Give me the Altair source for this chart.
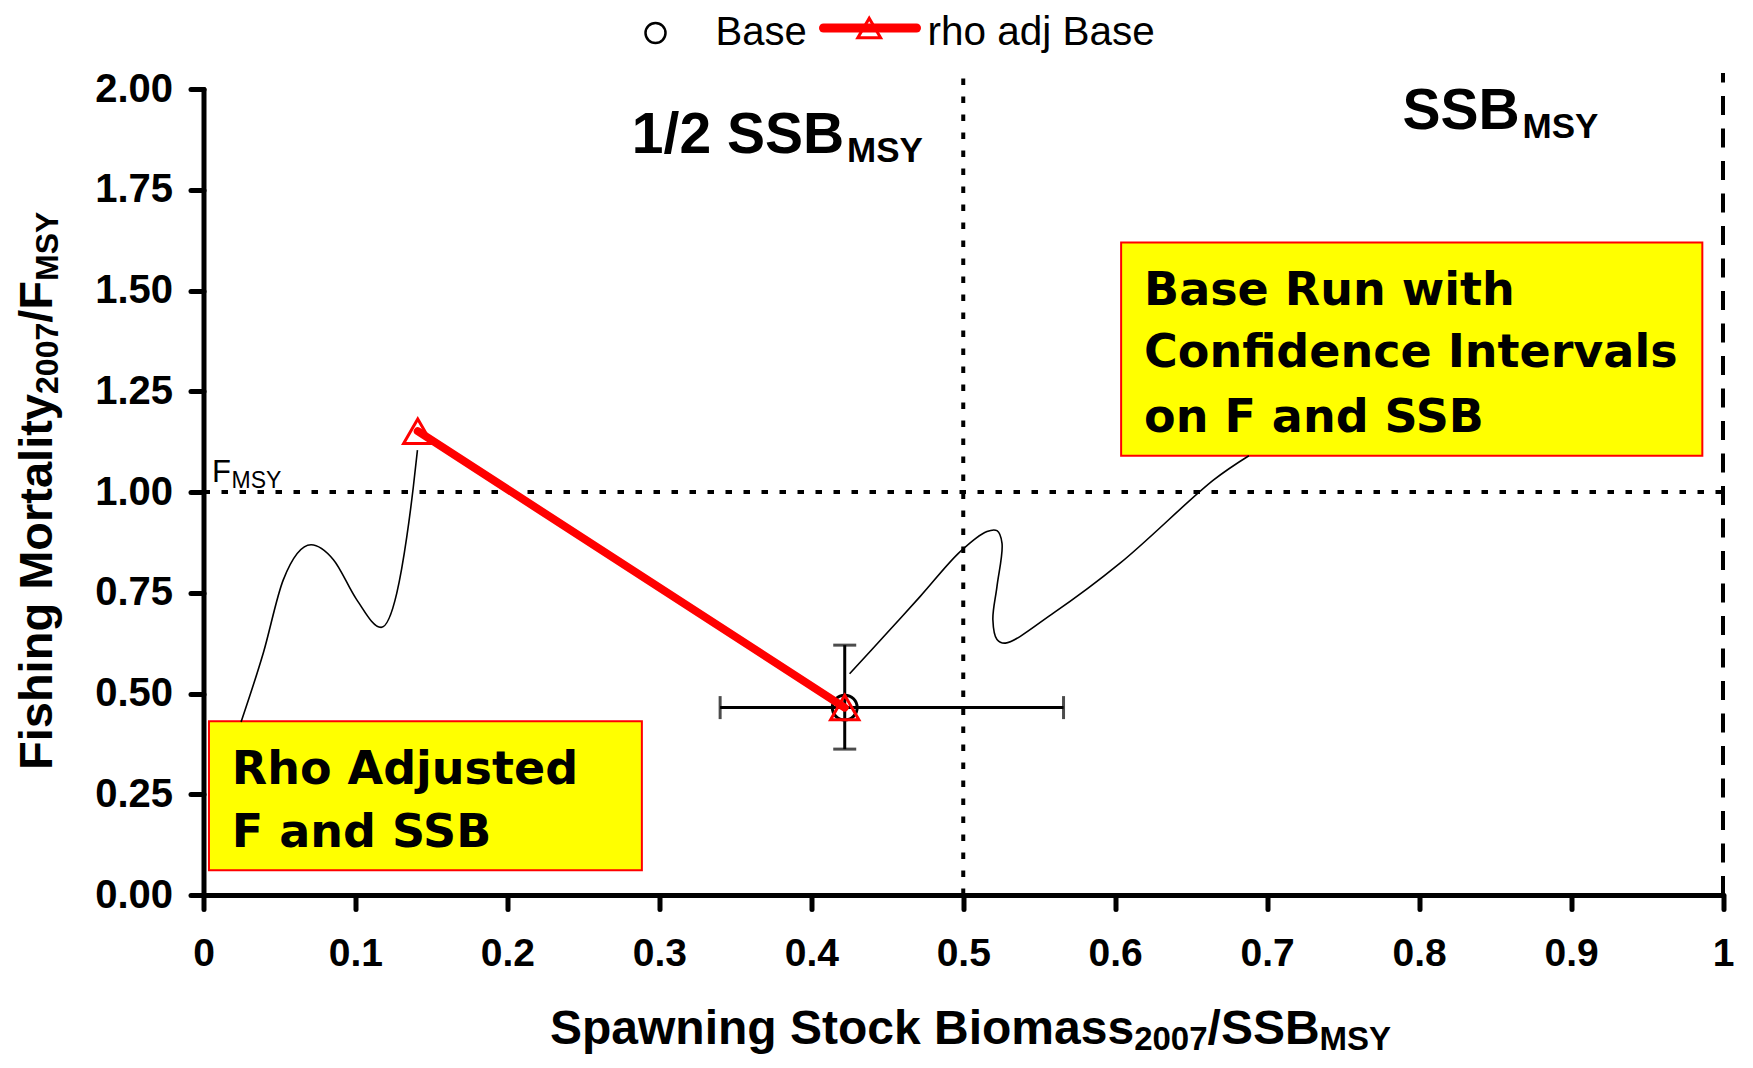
import altair as alt
import pandas as pd

# ---------------- data ----------------
base_ssb = [0.422]
base_f = [0.465]
base_ssb_ci = [0.340, 0.566]
base_f_ci = [0.362, 0.620]

rho_ssb = [0.141, 0.422]
rho_f = [1.151, 0.465]

x_ticks = [0, 0.1, 0.2, 0.3, 0.4, 0.5, 0.6, 0.7, 0.8, 0.9, 1]
y_ticks = [0, 0.25, 0.5, 0.75, 1.0, 1.25, 1.5, 1.75, 2.0]

f_msy = 1.0
half_ssb_msy = 0.5
ssb_msy = 1.0
ref_top = 2.04

# callout connector curves (data coordinates)
callout1_x = [0.0247, 0.0394, 0.0525, 0.0708, 0.0855, 0.1008, 0.1169, 0.1272, 0.1338, 0.1381, 0.1408]
callout1_y = [0.429, 0.601, 0.782, 0.869, 0.832, 0.733, 0.664, 0.749, 0.889, 1.013, 1.104]
callout2_x = [0.4252, 0.4498, 0.4717, 0.498, 0.5156, 0.5222, 0.5255, 0.5222, 0.5195, 0.5222, 0.5277, 0.5595, 0.6034, 0.6648, 0.688]
callout2_y = [0.549, 0.650, 0.741, 0.852, 0.902, 0.904, 0.873, 0.766, 0.683, 0.634, 0.625, 0.700, 0.824, 1.030, 1.090]

# callout boxes
box_x0 = [0.0036, 0.6039]
box_x1 = [0.2885, 0.9864]
box_y0 = [0.0614, 1.090]
box_y1 = [0.431, 1.619]
box_text = ["Rho Adjusted", "F and SSB", "Base Run with", "Confidence Intervals", "on F and SSB"]
box_text_x = [0.0186, 0.0186, 0.619, 0.619, 0.619]
box_text_y = [0.276, 0.119, 1.464, 1.311, 1.150]

# ---------------- helpers ----------------
AB = {' ': 278, '/': 278, '.': 278, 'B': 722, 'F': 611, 'M': 833, 'S': 667, 'Y': 667,
      'a': 556, 'b': 611, 'c': 556, 'g': 611, 'h': 611, 'i': 278, 'k': 556, 'l': 278,
      'm': 889, 'n': 611, 'o': 611, 'p': 611, 'r': 389, 's': 556, 't': 333, 'w': 778, 'y': 556}


def tw(s, size):
    return sum(AB.get(c, 556) for c in s) * size / 1000.0


ARIAL = "Liberation Sans, Arial"
COMIC = "Comic Sans MS, DejaVu Sans"
one = pd.DataFrame({"k": [0]})

W, H = 1519.5, 806
PAD = {"left": 195.5, "top": 81, "right": 20, "bottom": 163}

xs = alt.Scale(domain=[0, 1], nice=False, zero=False)
ys = alt.Scale(domain=[0, 2], nice=False, zero=False)
XAX = alt.Axis(values=x_ticks, format="~g", tickSize=14, labelPadding=25, title=None,
               labelFlush=False, labelOverlap=False, labelFontSize=39)
YAX = alt.Axis(values=y_ticks, format=".2f", tickSize=13, labelPadding=18, title=None,
               labelOverlap=False, labelFontSize=40)


def X(f):
    return alt.X(f, type="quantitative", scale=xs, axis=XAX)


def Y(f):
    return alt.Y(f, type="quantitative", scale=ys, axis=YAX)


layers = []

# callout boxes
boxes = pd.DataFrame({"x0": box_x0, "x1": box_x1, "y0": box_y0, "y1": box_y1})
layers.append(alt.Chart(boxes).mark_rect(fill="#FFFF00", stroke="#FF0000", strokeWidth=2).encode(
    x=X("x0"), x2="x1", y=Y("y0"), y2="y1"))
bt = pd.DataFrame({"t": box_text, "x": box_text_x, "y": box_text_y})
layers.append(alt.Chart(bt).mark_text(font=COMIC, fontWeight="bold", fontSize=46, align="left",
                                      baseline="alphabetic", color="black").encode(
    x=X("x"), y=Y("y"), text="t:N"))

# connector curves
c1 = pd.DataFrame({"x": callout1_x, "y": callout1_y, "i": list(range(len(callout1_x)))})
c2 = pd.DataFrame({"x": callout2_x, "y": callout2_y, "i": list(range(len(callout2_x)))})
layers.append(alt.Chart(c1).mark_line(color="black", strokeWidth=1.6, interpolate="monotone").encode(
    x=X("x"), y=Y("y"), order="i:Q"))
layers.append(alt.Chart(c2).mark_line(color="black", strokeWidth=1.6, interpolate="catmull-rom").encode(
    x=X("x"), y=Y("y"), order="i:Q"))

# reference lines
layers.append(alt.Chart(pd.DataFrame({"x": [half_ssb_msy], "y": [0], "y2": [ref_top]})).mark_rule(
    color="black", strokeWidth=4, strokeDash=[6.5, 11.5]).encode(x=X("x"), y=Y("y"), y2="y2"))
layers.append(alt.Chart(pd.DataFrame({"x": [ssb_msy], "y": [0], "y2": [ref_top]})).mark_rule(
    color="black", strokeWidth=4, strokeDash=[19, 13.5]).encode(x=X("x"), y=Y("y"), y2="y2"))
layers.append(alt.Chart(pd.DataFrame({"x": [0], "x2": [1.003], "y": [f_msy]})).mark_rule(
    color="black", strokeWidth=4, strokeDash=[6.5, 11.5]).encode(x=X("x"), x2="x2", y=Y("y")))

# F_MSY label
layers.append(alt.Chart(pd.DataFrame({"x": [0], "y": [f_msy]})).mark_text(
    text="F", font=ARIAL, fontSize=31, align="left", baseline="alphabetic", dx=8.5, dy=-10.5,
    color="black").encode(x=X("x"), y=Y("y")))
layers.append(alt.Chart(pd.DataFrame({"x": [0], "y": [f_msy]})).mark_text(
    text="MSY", font=ARIAL, fontSize=23, align="left", baseline="alphabetic", dx=28, dy=-4,
    color="black").encode(x=X("x"), y=Y("y")))

# region labels
for lab, lx, ly in (("1/2 SSB", 0.2819, 1.84), ("SSB", 0.789, 1.901)):
    d = pd.DataFrame({"x": [lx], "y": [ly]})
    layers.append(alt.Chart(d).mark_text(text=lab, font=ARIAL, fontWeight="bold", fontSize=57,
                                         align="left", baseline="alphabetic", color="black").encode(
        x=X("x"), y=Y("y")))
    layers.append(alt.Chart(d).mark_text(text="MSY", font=ARIAL, fontWeight="bold", fontSize=35,
                                         align="left", baseline="alphabetic", color="black",
                                         dx=tw(lab, 57) + 3, dy=9).encode(x=X("x"), y=Y("y")))

# error bars of the base run
eb = pd.DataFrame({"x": base_ssb, "y": base_f, "xlo": [base_ssb_ci[0]], "xhi": [base_ssb_ci[1]],
                   "ylo": [base_f_ci[0]], "yhi": [base_f_ci[1]]})
layers.append(alt.Chart(eb).mark_rule(color="black", strokeWidth=3).encode(x=X("xlo"), x2="xhi", y=Y("y")))
layers.append(alt.Chart(eb).mark_rule(color="black", strokeWidth=3).encode(x=X("x"), y=Y("ylo"), y2="yhi"))
capx = pd.DataFrame({"x": base_ssb_ci, "y": base_f * 2})
capy = pd.DataFrame({"x": base_ssb * 2, "y": base_f_ci})
layers.append(alt.Chart(capx).mark_tick(color="black", thickness=3, size=23, orient="vertical").encode(
    x=X("x"), y=Y("y")))
layers.append(alt.Chart(capy).mark_tick(color="black", thickness=3, size=23, orient="horizontal").encode(
    x=X("x"), y=Y("y")))

# base point
layers.append(alt.Chart(pd.DataFrame({"x": base_ssb, "y": base_f})).mark_point(
    shape="circle", filled=False, size=620, strokeWidth=3, color="black", opacity=1).encode(
    x=X("x"), y=Y("y")))

# rho adjusted series
rho = pd.DataFrame({"x": rho_ssb, "y": rho_f, "i": [0, 1]})
layers.append(alt.Chart(rho).mark_point(shape="triangle-up", filled=False, size=800, strokeWidth=3,
                                        color="#FF0000", opacity=1).encode(x=X("x"), y=Y("y")))
layers.append(alt.Chart(rho).mark_line(color="#FF0000", strokeWidth=8, strokeCap="round").encode(
    x=X("x"), y=Y("y"), order="i:Q"))

# ---------------- legend (pixel layout above the plot) ----------------
LB = -44.5   # legend text baseline
layers.append(alt.Chart(one).mark_point(shape="circle", filled=False, size=400, strokeWidth=2.5,
                                        color="black", opacity=1).encode(
    x=alt.value(452), y=alt.value(LB - 11.5)))
layers.append(alt.Chart(one).mark_text(text="Base", font=ARIAL, fontSize=40, align="left",
                                       baseline="alphabetic", color="black").encode(
    x=alt.value(512), y=alt.value(LB)))
layers.append(alt.Chart(one).mark_rule(color="#FF0000", strokeWidth=9, strokeCap="round").encode(
    x=alt.value(620), x2=alt.value(713), y=alt.value(LB - 16.5)))
layers.append(alt.Chart(one).mark_point(shape="triangle-up", filled=False, size=520, strokeWidth=3,
                                        color="#FF0000", opacity=1).encode(
    x=alt.value(665.7), y=alt.value(LB - 16.5)))
layers.append(alt.Chart(one).mark_text(text="rho adj Base", font=ARIAL, fontSize=40.5, align="left",
                                       baseline="alphabetic", color="black").encode(
    x=alt.value(724), y=alt.value(LB)))


# ---------------- axis titles with subscripts ----------------
def rich(segments, x0, y0, angle=0):
    out = []
    pos = 0.0
    for text, size, shift in segments:
        if angle == 0:
            px, py = x0 + pos, y0 + shift
        else:
            px, py = x0 + shift, y0 - pos
        out.append(alt.Chart(one).mark_text(text=text, font=ARIAL, fontWeight="bold", fontSize=size,
                                            align="left", baseline="alphabetic", angle=angle,
                                            color="black").encode(
            x=alt.value(float(px)), y=alt.value(float(py))))
        pos += tw(text, size)
    return out


layers += rich([("Spawning Stock Biomass", 48, 0), ("2007", 33, 6), ("/SSB", 48, 0), ("MSY", 33, 6)],
               346.5, 955)
layers += rich([("Fishing Mortality", 47, 0), ("2007", 32, 6), ("/F", 47, 0), ("MSY", 32, 6)],
               -151.5, 681, angle=270)

chart = alt.layer(*layers).properties(
    width=W, height=H, padding=PAD, autosize=alt.AutoSizeParams(type="none")
).configure_view(stroke=None).configure_axis(
    domainColor="black", domainWidth=5, tickColor="black", tickWidth=5, grid=False,
    labelFont=ARIAL, labelFontWeight="bold", labelFontSize=38, labelColor="black",
    domainCap="round", tickCap="round"
)

chart.save("out.html", embed_options={"renderer": "svg", "actions": False})
